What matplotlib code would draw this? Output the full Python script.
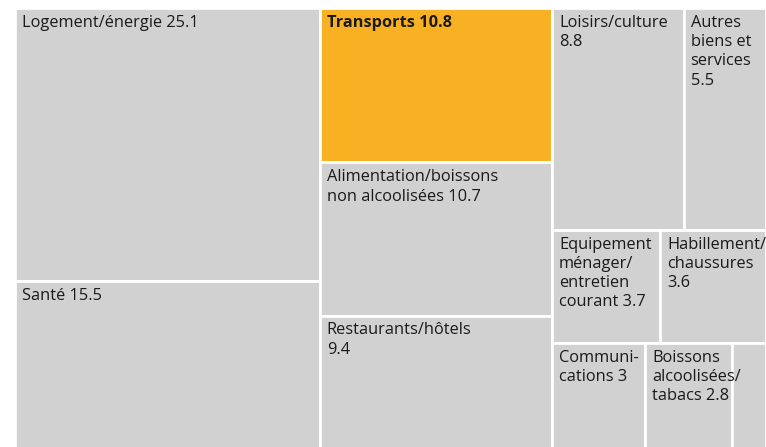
import matplotlib.pyplot as plt
from matplotlib.patches import Rectangle

plt.rcParams['font.family'] = ['Open Sans', 'DejaVu Sans']

# columns of the treemap (values in %)
col1_labels = ["Logement/énergie 25.1", "Santé 15.5"]
col1_values = [25.1, 15.5]

col2_labels = ["Transports 10.8", "Alimentation/boissons\nnon alcoolisées 10.7",
               "Restaurants/hôtels\n9.4"]
col2_values = [10.8, 10.7, 9.4]

# third column is split in rows
col3_labels = [["Loisirs/culture\n8.8", "Autres\nbiens et\nservices\n5.5"],
               ["Equipement\nménager/\nentretien\ncourant 3.7", "Habillement/\nchaussures\n3.6"],
               ["Communi-\ncations 3", "Boissons\nalcoolisées/\ntabacs 2.8", "Enseignement\n1.1"]]
col3_values = [[8.8, 5.5], [3.7, 3.6], [3.0, 2.8, 1.1]]

highlight = "Transports 10.8"

grey = '#d1d1d1'
orange = '#f8b122'

total = sum(col1_values) + sum(col2_values) + sum(sum(r) for r in col3_values)

fig = plt.figure(figsize=(7.66, 4.47), dpi=100)
ax = fig.add_axes([15 / 766, -3 / 447, 751 / 766, 442 / 447])
ax.set_xlim(0, 1)
ax.set_ylim(1, 0)
ax.axis('off')


def draw(x, y, w, h, label, small=False):
    hl = label == highlight
    ax.add_patch(Rectangle((x, y), w, h, facecolor=orange if hl else grey,
                           edgecolor='white', linewidth=2))
    if small:
        # too narrow: label falls below the cell, as in the original
        ax.annotate(label, (x, 1), xytext=(4, 1), textcoords='offset points',
                    va='top', ha='left', fontsize=11.8, color='#1a1a1a')
        return
    ax.annotate(label, (x, y), xytext=(5, -5), textcoords='offset points',
                va='top', ha='left', fontsize=11.8, color='#1a1a1a',
                linespacing=1.27, fontweight='bold' if hl else 'normal')


x0 = 0
for labels, values in [(col1_labels, col1_values), (col2_labels, col2_values)]:
    w = sum(values) / total
    y0 = 0
    for lab, v in zip(labels, values):
        h = v / sum(values)
        draw(x0, y0, w, h, lab)
        y0 += h
    x0 += w

w3 = 1 - x0
s3 = sum(sum(r) for r in col3_values)
y0 = 0
for labels, values in zip(col3_labels, col3_values):
    h = sum(values) / s3
    xx = x0
    for lab, v in zip(labels, values):
        w = v / sum(values) * w3
        draw(xx, y0, w, h, lab, small=(v < 2))
        xx += w
    y0 += h

fig.savefig('out.png', dpi=100)
